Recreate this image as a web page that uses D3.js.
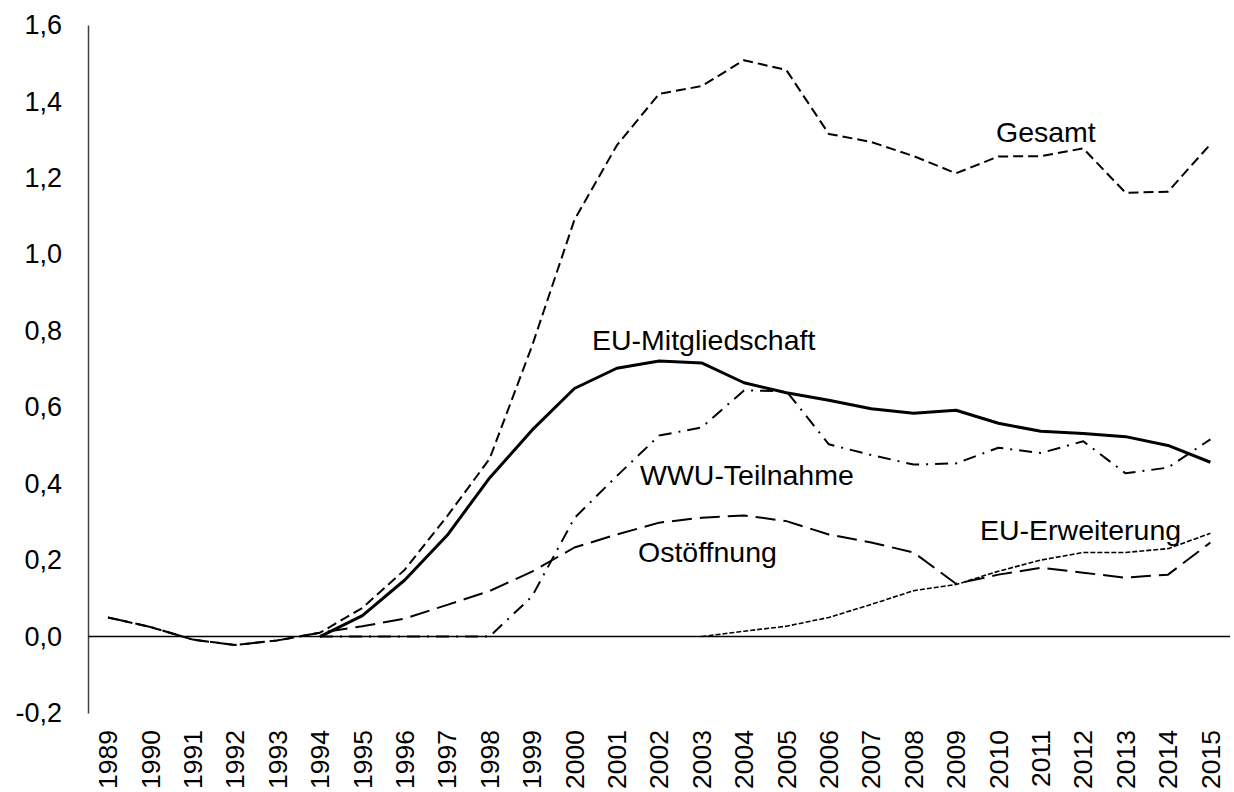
<!DOCTYPE html>
<html>
<head>
<meta charset="utf-8">
<script src="https://cdn.jsdelivr.net/npm/d3@7"></script>
<style>
  body { margin: 0; background: #fff; }
  svg text { font-family: "Liberation Sans", Arial, sans-serif; fill: #000; }
</style>
</head>
<body>
<svg id="chart"></svg>
<script>
let width = 1234;
let height = 792;

// data
let years = d3.range(1989, 2016);
let gesamt = [0.05, 0.025, -0.008, -0.022, -0.01, 0.01, 0.075, 0.175, 0.315, 0.465, 0.76, 1.09, 1.285, 1.42, 1.44, 1.508, 1.482, 1.315, 1.294, 1.257, 1.212, 1.256, 1.257, 1.277, 1.161, 1.164, 1.288];
let euMitglied = [null, null, null, null, null, 0.0, 0.055, 0.148, 0.265, 0.415, 0.54, 0.649, 0.702, 0.721, 0.716, 0.664, 0.638, 0.618, 0.596, 0.584, 0.592, 0.558, 0.537, 0.531, 0.523, 0.5, 0.456];
let wwu = [null, null, null, null, null, 0.0, 0.0, 0.0, 0.0, 0.0, 0.105, 0.31, 0.42, 0.526, 0.547, 0.644, 0.642, 0.503, 0.475, 0.45, 0.453, 0.494, 0.48, 0.511, 0.427, 0.442, 0.516];
let ostoeffnung = [0.05, 0.025, -0.008, -0.022, -0.01, 0.01, 0.027, 0.047, 0.083, 0.119, 0.17, 0.233, 0.267, 0.298, 0.311, 0.317, 0.302, 0.267, 0.246, 0.22, 0.138, 0.162, 0.18, 0.167, 0.154, 0.162, 0.246];
let euErweiterung = [null, null, null, null, null, null, null, null, null, null, null, null, null, null, 0.0, 0.014, 0.027, 0.05, 0.084, 0.12, 0.136, 0.171, 0.2, 0.22, 0.22, 0.23, 0.27];
let yTicks = [-0.2, 0, 0.2, 0.4, 0.6, 0.8, 1.0, 1.2, 1.4, 1.6];

let series = [
  {name: 'Gesamt', values: gesamt, dash: '10,5', width: 2, label: [996, 142]},
  {name: 'EU-Mitgliedschaft', values: euMitglied, dash: null, width: 3, label: [592, 350]},
  {name: 'WWU-Teilnahme', values: wwu, dash: '13,7,2,7', width: 2, label: [640, 485]},
  {name: 'Ostöffnung', values: ostoeffnung, dash: '20,8', width: 2, label: [638, 562]},
  {name: 'EU-Erweiterung', values: euErweiterung, dash: '5,2', width: 1.6, label: [980, 540]}
];

let svg = d3.select('#chart').attr('width', width).attr('height', height);

let xScale = d3.scaleLinear().domain([1989, 2015]).range([108, 1210.4]);
let yScale = d3.scaleLinear().domain([-0.2, 1.6]).range([713, 25]);

let locale = d3.formatLocale({decimal: ',', thousands: '.', grouping: [3], currency: ['', '€'], minus: '-'});
let fmt = locale.format('.1f');

// y axis
let yAxis = svg.append('g')
    .attr('transform', 'translate(88,0)')
    .call(d3.axisLeft(yScale).tickValues(yTicks).tickSize(0).tickPadding(26).tickFormat(fmt));
yAxis.select('.domain').attr('stroke', '#404040').attr('stroke-width', 1.5);
yAxis.selectAll('text').attr('font-size', 27).attr('font-family', '"Liberation Sans", Arial, sans-serif');

// zero line
svg.append('line')
    .attr('x1', 88).attr('x2', 1230)
    .attr('y1', yScale(0)).attr('y2', yScale(0))
    .attr('stroke', '#000').attr('stroke-width', 1.5);

// year labels, rotated (kept inside the frame)
svg.append('g').selectAll('text')
    .data(years)
    .join('text')
    .attr('transform', d => `translate(${xScale(d)},730) rotate(-90)`)
    .attr('dy', '0.35em')
    .attr('text-anchor', 'end')
    .attr('font-size', 26.5)
    .text(d => d);

let line = d3.line()
    .defined(d => d.v !== null)
    .x(d => xScale(d.year))
    .y(d => yScale(d.v));

svg.append('g').selectAll('path')
    .data(series)
    .join('path')
    .attr('d', s => line(years.map((y, i) => ({year: y, v: s.values[i]}))))
    .attr('fill', 'none')
    .attr('stroke', '#000')
    .attr('stroke-width', s => s.width)
    .attr('stroke-dasharray', s => s.dash)
    .attr('stroke-linejoin', 'round');

svg.append('g').selectAll('text')
    .data(series)
    .join('text')
    .attr('x', s => s.label[0])
    .attr('y', s => s.label[1])
    .attr('font-size', 28.5)
    .text(s => s.name);
</script>
</body>
</html>
